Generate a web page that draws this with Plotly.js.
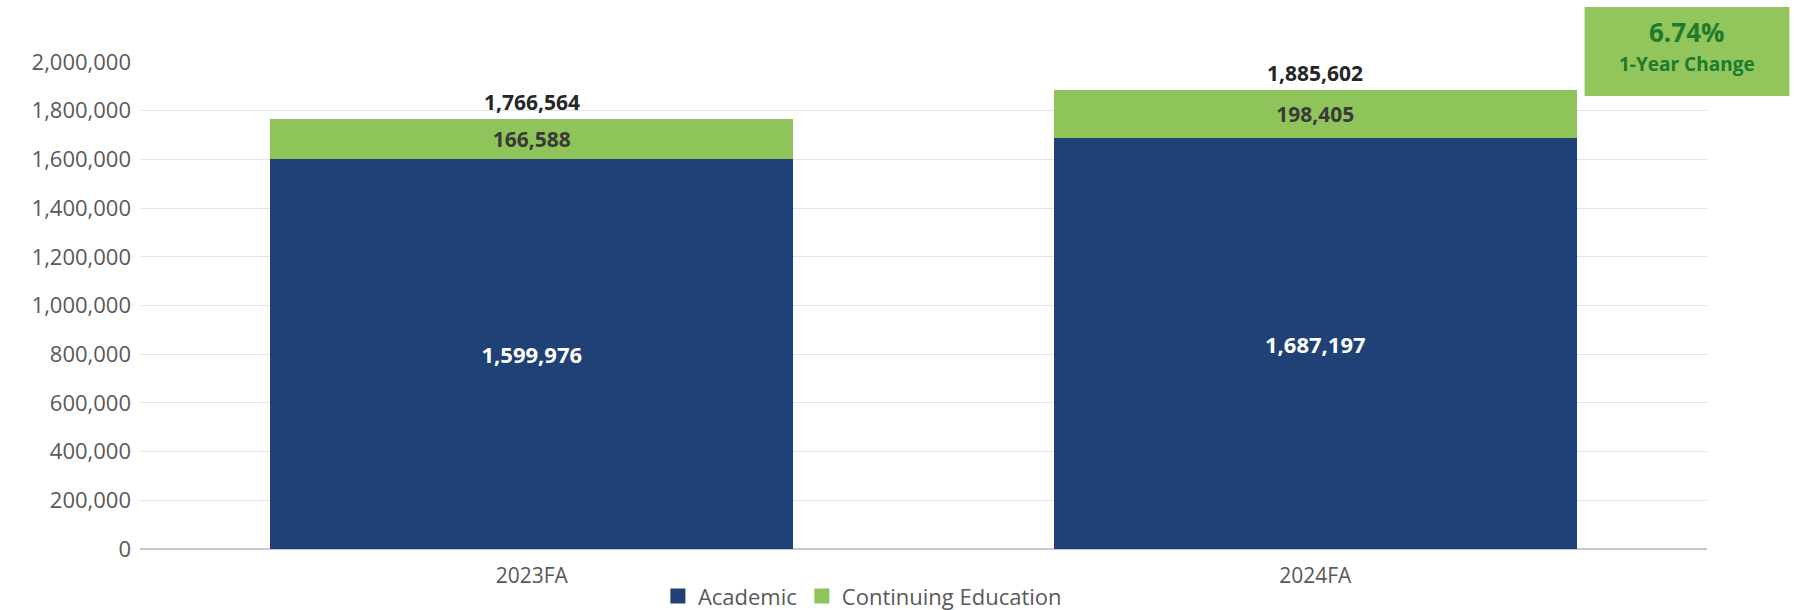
<!DOCTYPE html>
<html>
<head>
<meta charset="utf-8">
<script src="https://cdn.plot.ly/plotly-3.0.1.min.js"></script>
<style>
  html, body { margin: 0; padding: 0; background: #ffffff; }
  #chart { width: 1794px; height: 610px; }
</style>
</head>
<body>
<div id="chart"></div>
<script>
const categories = ["2023FA", "2024FA"];
const academic = [1599976, 1687197];
const continuingEd = [166588, 198405];
const totals = [1766564, 1885602];
const seriesNames = ["Academic", "Continuing Education"];
const changeText = "6.74%";
const changeLabel = "1-Year Change";
const yTicks = [0, 200000, 400000, 600000, 800000, 1000000, 1200000, 1400000, 1600000, 1800000, 2000000];

const FONT = "'Open Sans', 'Liberation Sans', sans-serif";
const BLUE = "#1F4175";
const GREEN = "#8FC45A";

const fmt = v => v.toLocaleString("en-US");

const traces = [
  {
    type: "bar",
    name: seriesNames[0],
    x: categories,
    y: academic,
    marker: { color: BLUE },
    text: academic.map(fmt),
    textposition: "inside",
    insidetextanchor: "middle",
    textfont: { family: FONT, size: 22, color: "#ffffff", weight: "bold" },
    showlegend: false,
    hoverinfo: "skip"
  },
  {
    type: "bar",
    name: seriesNames[1],
    x: categories,
    y: continuingEd,
    marker: { color: GREEN },
    text: continuingEd.map(fmt),
    textposition: "inside",
    insidetextanchor: "middle",
    textfont: { family: FONT, size: 21, color: "#3a3a3a", weight: "bold" },
    showlegend: false,
    hoverinfo: "skip"
  },
  // legend keys (larger squares, as in the reference)
  {
    type: "scatter", mode: "markers", name: seriesNames[0],
    x: [null], y: [null],
    marker: { symbol: "square", size: 15, color: BLUE },
    hoverinfo: "skip"
  },
  {
    type: "scatter", mode: "markers", name: seriesNames[1],
    x: [null], y: [null],
    marker: { symbol: "square", size: 15, color: GREEN },
    hoverinfo: "skip"
  }
];

const annotations = categories.map((c, i) => ({
  x: c, y: totals[i], xref: "x", yref: "y",
  text: "<b>" + fmt(totals[i]) + "</b>",
  showarrow: false, yanchor: "bottom", yshift: 1,
  font: { family: FONT, size: 21, color: "#262626" }
}));

annotations.push({
  xref: "paper", yref: "paper",
  x: 0.9872, y: 1.0606, xanchor: "center", yanchor: "middle",
  text: "<b>" + changeText + "</b>",
  showarrow: false,
  font: { family: FONT, size: 26, color: "#1E7A2C" }
});
annotations.push({
  xref: "paper", yref: "paper",
  x: 0.9872, y: 0.9959, xanchor: "center", yanchor: "middle",
  text: "<b>" + changeLabel + "</b>",
  showarrow: false,
  font: { family: FONT, size: 19, color: "#1E7A2C" }
});

const layout = {
  width: 1794, height: 610,
  paper_bgcolor: "#ffffff", plot_bgcolor: "#ffffff",
  margin: { l: 139.5, r: 86.5, t: 62, b: 61, autoexpand: false },
  barmode: "stack",
  bargap: 0.333,
  showlegend: true,
  legend: {
    orientation: "h", x: 0.461, xanchor: "center", y: -0.097, yanchor: "middle",
    font: { family: FONT, size: 22, color: "#595959" },
    traceorder: "normal", itemwidth: 30, tracegroupgap: 0
  },
  xaxis: {
    type: "category",
    showgrid: false, zeroline: false, showline: false,
    ticks: "", ticklabelstandoff: 12,
    tickfont: { family: FONT, size: 21, color: "#595959" }
  },
  yaxis: {
    range: [0, 2000000],
    tickvals: yTicks,
    ticktext: yTicks.map(fmt),
    showgrid: true, gridcolor: "#e4e4e4", gridwidth: 1,
    zeroline: true, zerolinecolor: "#c8c8c8", zerolinewidth: 2,
    showline: false, ticks: "", ticklabelstandoff: 8,
    tickfont: { family: FONT, size: 22, color: "#595959" }
  },
  shapes: [{
    type: "rect", xref: "paper", yref: "paper",
    x0: 0.9219, x1: 1.0526, y0: 0.9302, y1: 1.1129,
    fillcolor: "#92C55B", line: { width: 0 }, layer: "above"
  }],
  annotations: annotations,
  font: { family: FONT }
};

Plotly.newPlot("chart", traces, layout, { displayModeBar: false, staticPlot: true });
</script>
</body>
</html>
